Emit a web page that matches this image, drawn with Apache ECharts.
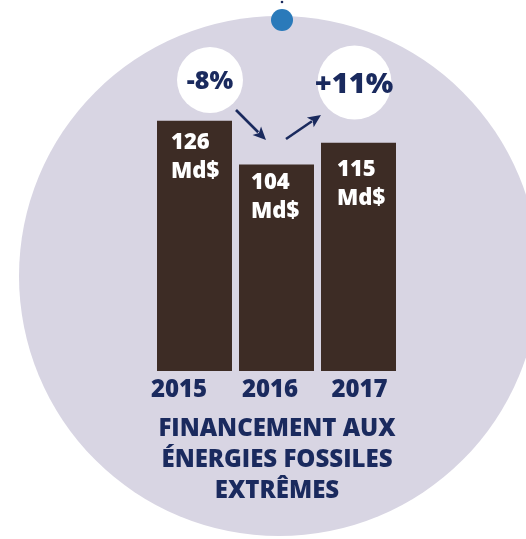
<!DOCTYPE html>
<html>
<head>
<meta charset="utf-8">
<script src="https://cdn.jsdelivr.net/npm/echarts@6/dist/echarts.min.js"></script>
<style>html,body{margin:0;padding:0;background:#fff;}#c{width:526px;height:539px;}</style>
</head>
<body>
<div id="c"></div>
<script>
// ---- data ----
const categories = ['2015', '2016', '2017'];
const values = [126, 104, 115];
const unitLabel = 'Md$';
const changeLabels = ['-8%', '+11%'];
const titleLines = ['FINANCEMENT AUX', 'ÉNERGIES FOSSILES', 'EXTRÊMES'];

// ---- style ----
const NAVY = '#1a2a5e';
const BAR = '#3d2c25';
const LAV = '#d8d5e3';
const FONT = '"Open Sans", "DejaVu Sans", sans-serif';
const labelPos = [[14, 7], [12, 4], [16, 13]];
const yearPad = [[0, 31, 0, 0], [0, 13, 0, 0], [0, 0, 0, 2]];

function arrow(x1, y1, x2, y2) {
  const dx = x2 - x1, dy = y2 - y1, L = Math.sqrt(dx * dx + dy * dy);
  const ux = dx / L, uy = dy / L, hl = 13, hw = 6;
  const bx = x2 - ux * hl, by = y2 - uy * hl;
  return [
    { type: 'line', shape: { x1: x1, y1: y1, x2: bx + ux * 2, y2: by + uy * 2 }, style: { stroke: NAVY, lineWidth: 2.6 }, z: 5 },
    { type: 'polygon', shape: { points: [[x2, y2], [bx - uy * hw, by + ux * hw], [bx + ux * 3, by + uy * 3], [bx + uy * hw, by - ux * hw]] }, style: { fill: NAVY }, z: 5 }
  ];
}

const chart = echarts.init(document.getElementById('c'), null, { renderer: 'canvas' });

const rich = {};
categories.forEach((c, i) => {
  rich['y' + i] = { fontFamily: FONT, fontWeight: 800, fontSize: 24, color: NAVY, padding: yearPad[i], lineHeight: 24 };
});

const option = {
  animation: false,
  backgroundColor: '#ffffff',
  grid: { left: 153.5, right: 126.5, top: 93, bottom: 168 },
  xAxis: {
    type: 'category',
    data: categories,
    axisLine: { show: false },
    axisTick: { show: false },
    axisLabel: {
      margin: 7,
      formatter: function (v, i) { return '{y' + i + '|' + v + '}'; },
      rich: rich
    }
  },
  yAxis: { type: 'value', min: 0, max: 140, show: false, splitLine: { show: false } },
  series: [{
    type: 'bar',
    barWidth: 75,
    z: 3,
    itemStyle: { color: BAR },
    data: values.map((v, i) => ({
      value: v,
      label: { position: labelPos[i] }
    })),
    label: {
      show: true,
      align: 'left',
      verticalAlign: 'top',
      formatter: function (p) { return p.value + '\n' + unitLabel; },
      color: '#ffffff',
      fontFamily: FONT,
      fontWeight: 800,
      fontSize: 22,
      lineHeight: 29
    }
  }],
  graphic: [
    { type: 'circle', shape: { cx: 279, cy: 276, r: 260 }, style: { fill: LAV }, z: -10 },
    { type: 'circle', shape: { cx: 282, cy: 20, r: 11 }, style: { fill: '#2a7aba' }, z: 1 },
    { type: 'circle', shape: { cx: 282, cy: 2, r: 1.3 }, style: { fill: NAVY }, z: 1 },
    { type: 'circle', shape: { cx: 210, cy: 80, r: 33 }, style: { fill: '#ffffff' }, z: 4 },
    { type: 'circle', shape: { cx: 354.5, cy: 82.5, r: 37 }, style: { fill: '#ffffff' }, z: 4 },
    { type: 'text', x: 210, y: 82, z: 6, style: { text: changeLabels[0], fill: NAVY, font: '800 25px ' + FONT, textAlign: 'center', textVerticalAlign: 'middle' } },
    { type: 'text', x: 354, y: 85, z: 6, style: { text: changeLabels[1], fill: NAVY, font: '800 29px ' + FONT, textAlign: 'center', textVerticalAlign: 'middle' } },
    ...arrow(236, 110, 266, 140),
    ...arrow(286, 139, 321, 115),
    { type: 'text', x: 277, y: 414, z: 6, style: { text: titleLines.join('\n'), fill: NAVY, font: '800 24px ' + FONT, lineHeight: 31, textAlign: 'center', textVerticalAlign: 'top' } }
  ]
};
chart.setOption(option);
</script>
</body>
</html>
